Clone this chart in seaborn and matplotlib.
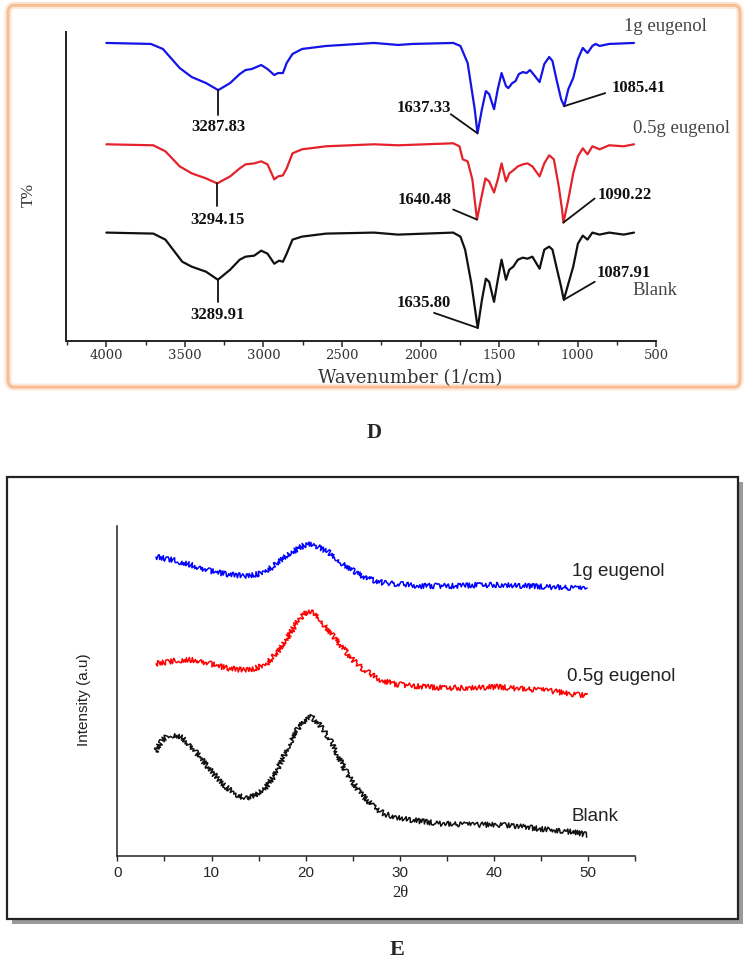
import matplotlib
matplotlib.use("Agg")
import matplotlib.pyplot as plt
from matplotlib.patches import FancyBboxPatch, Rectangle
from matplotlib.ticker import MultipleLocator
import pandas as pd
import seaborn as sns

# ---- panel D : FTIR, relative transmittance (0 = flat baseline) ----
ir_1g_wn = [4000, 3716, 3640, 3533, 3456, 3365, 3287.83, 3212, 3151, 3114, 3075, 3014, 2974, 2931,
            2907, 2876, 2852, 2815, 2754, 2601, 2296, 2143, 2052, 1792, 1746, 1700, 1655, 1637.33,
            1609, 1584, 1563, 1532, 1508, 1484, 1456, 1441, 1416, 1395, 1374, 1349, 1325, 1303,
            1282, 1242, 1212, 1181, 1160, 1135, 1105, 1085.41, 1059, 1028, 998, 967, 937, 906,
            885, 860, 799, 641]
ir_1g_t = [0, -1, -6, -25, -34, -40, -47, -40, -31, -27, -26, -22, -26, -32,
           -30, -30, -20, -11, -6, -3, 0, -2, -1, 0, -3, -20, -66, -90,
           -66, -48, -51, -66, -46, -30, -43, -45, -40, -38, -31, -29, -30, -27,
           -31, -39, -21, -14, -18, -36, -56, -63, -46, -35, -16, -5, -10, -3,
           -1, -3, -1, 0]

ir_05g_wn = [4000, 3701, 3624, 3533, 3456, 3365, 3294.15, 3212, 3151, 3114, 3059, 3014, 2974, 2931,
             2907, 2876, 2852, 2815, 2754, 2601, 2296, 2143, 1792, 1752, 1731, 1700, 1670, 1640.48,
             1615, 1587, 1563, 1532, 1508, 1484, 1456, 1435, 1410, 1380, 1349, 1319, 1288, 1242,
             1212, 1181, 1151, 1120, 1099, 1090.22, 1059, 1028, 998, 967, 937, 906, 860, 799,
             707, 641]
ir_05g_t = [0, -1, -7, -22, -29, -34, -39, -32, -24, -20, -19, -17, -20, -35,
            -32, -31, -24, -9, -5, -2, 0, -1, 1, -2, -15, -17, -35, -75,
            -55, -34, -37, -48, -35, -19, -37, -29, -26, -22, -20, -19, -22, -32,
            -19, -11, -15, -42, -65, -78, -55, -29, -12, -4, -10, -2, -5, -1,
            -2, 0]

ir_blank_wn = [4000, 3701, 3624, 3517, 3456, 3365, 3289.91, 3212, 3151, 3114, 3059, 3014, 2974, 2931,
               2901, 2876, 2852, 2815, 2754, 2601, 2296, 2143, 1792, 1746, 1716, 1676, 1635.80,
               1609, 1584, 1563, 1532, 1508, 1484, 1456, 1435, 1410, 1380, 1349, 1319, 1288, 1242,
               1212, 1181, 1160, 1135, 1105, 1087.91, 1059, 1028, 998, 967, 937, 906, 860, 799,
               707, 641]
ir_blank_t = [0, -1, -7, -29, -34, -39, -47, -37, -27, -24, -23, -18, -21, -31,
              -28, -29, -21, -7, -4, -1, 0, -2, 0, -4, -17, -51, -95,
              -67, -46, -49, -69, -47, -27, -47, -37, -34, -27, -25, -26, -24, -36,
              -17, -14, -17, -34, -54, -67, -51, -34, -11, -3, -7, 0, -2, 0,
              -2, 0]

ir_names = ["1g eugenol", "0.5g eugenol", "Blank"]
ir_peaks = {
    "1g eugenol": [3287.83, 1637.33, 1085.41],
    "0.5g eugenol": [3294.15, 1640.48, 1090.22],
    "Blank": [3289.91, 1635.80, 1087.91],
}

# ---- panel E : XRD ----
xrd_1g_2t = [4.1, 5.9, 7.9, 9.9, 11.5, 13.5, 15.0, 16.5, 18.1, 19.1, 20.1, 21.1, 22.4, 23.7, 25.2,
             26.7, 28.3, 29.8, 32.3, 35.9, 38.4, 41.0, 43.5, 46.1, 48.1, 49.9]
xrd_1g_i = [99, 96, 91, 85, 82, 80, 82, 89, 101, 107, 112, 110, 104, 94, 84,
            77, 73, 72, 70, 70, 71, 71, 70, 69, 68, 67]
xrd_05g_2t = [4.1, 5.3, 6.9, 8.4, 9.9, 11.5, 13.2, 14.5, 15.8, 17.1, 18.1, 19.1, 20.1, 20.9, 21.6,
              22.7, 23.7, 24.9, 26.2, 27.7, 29.3, 31.3, 34.4, 37.4, 40.5, 43.0, 46.1, 48.1, 49.9]
xrd_05g_i = [92, 94, 96, 96, 92, 88, 86, 87, 92, 104, 119, 134, 144, 143, 136,
             122, 111, 97, 86, 77, 72, 70, 68, 68, 69, 67, 65, 62, 60]
xrd_blank_2t = [4.1, 4.6, 5.3, 6.1, 6.9, 7.9, 8.9, 10.2, 11.5, 12.7, 13.7, 14.8, 15.8, 16.8, 17.8,
                18.8, 19.9, 20.6, 21.4, 22.4, 23.4, 24.4, 25.7, 27.0, 28.3, 29.8, 31.8, 34.4, 37.4,
                40.5, 43.0, 45.6, 48.1, 49.9]
xrd_blank_i = [104, 114, 120, 121, 118, 109, 97, 82, 69, 61, 57, 61, 69, 82, 102,
               122, 136, 139, 132, 119, 101, 82, 64, 51, 42, 38, 35, 32, 31,
               31, 29, 26, 24, 21]

colors = {"1g eugenol": "#1414E6", "0.5g eugenol": "#E3222B", "Blank": "#111111"}

sns.set_style("white")
plt.rcParams["font.family"] = ["Liberation Serif", "DejaVu Serif"]

fig = plt.figure(figsize=(7.48, 9.67), dpi=100)

# frames around the two panels
fig.patches.append(FancyBboxPatch((0.0107, 0.5997), 0.9786, 0.3948, boxstyle="round,pad=0,rounding_size=0.008",
                                  transform=fig.transFigure, fc="white", ec="#FDE6D6", lw=5, zorder=-6))
fig.patches.append(FancyBboxPatch((0.0107, 0.5997), 0.9786, 0.3948, boxstyle="round,pad=0,rounding_size=0.008",
                                  transform=fig.transFigure, fc="none", ec="#F7BC92", lw=2.0, zorder=-5))
fig.patches.append(Rectangle((0.0154, 0.0446), 0.9773, 0.457, transform=fig.transFigure,
                             fc="#9a9a9a", ec="none", zorder=-6))
fig.patches.append(Rectangle((0.0094, 0.0496), 0.9773, 0.457, transform=fig.transFigure,
                             fc="white", ec="#222222", lw=1.6, zorder=-5))

# ---------------- D ----------------
ax1 = fig.add_axes([0.0882, 0.6474, 0.789, 0.3196])
ax1.patch.set_visible(False)
ir_offset = {"1g eugenol": 297, "0.5g eugenol": 196, "Blank": 108}
ir_data = {"1g eugenol": (ir_1g_wn, ir_1g_t), "0.5g eugenol": (ir_05g_wn, ir_05g_t),
           "Blank": (ir_blank_wn, ir_blank_t)}
frames = []
for name in ir_names:
    wn, t = ir_data[name]
    frames.append(pd.DataFrame({"wn": wn, "T": [v + ir_offset[name] for v in t], "sample": name}))
df_ir = pd.concat(frames, ignore_index=True)
sns.lineplot(data=df_ir, x="wn", y="T", hue="sample", palette=colors, estimator=None,
             sort=False, units="sample", lw=1.6, legend=False, ax=ax1)

ax1.set_xlim(4257, 500)
ax1.set_ylim(0, 308)
ax1.set_yticks([])
ax1.xaxis.set_major_locator(MultipleLocator(500))
ax1.xaxis.set_minor_locator(MultipleLocator(250))
ax1.tick_params(axis="x", which="major", direction="out", length=4, width=1.1, pad=1.5,
                labelsize=9.5, labelcolor="#333333", bottom=True)
ax1.tick_params(axis="x", which="minor", direction="out", length=3, width=1.0, bottom=True)
for lab in ax1.get_xticklabels():
    lab.set_family("DejaVu Serif")
for s in ["top", "right"]:
    ax1.spines[s].set_visible(False)
for s in ["left", "bottom"]:
    ax1.spines[s].set_linewidth(1.4)
    ax1.spines[s].set_color("#222222")
ax1.set_xlabel("")
ax1.set_ylabel("")

# peak call-outs per sample: (line end offset, text offset, alignment) for each peak
callouts = {
    "1g eugenol": [((0, -25), (0, -37), "center"), ((170, 19), (168, 25), "right"),
                   ((-261, 13), (-301, 18), "left")],
    "0.5g eugenol": [((0, -22), (0, -36), "center"), ((152, 10), (163, 19), "right"),
                     ((-199, 24), (-220, 27), "left")],
    "Blank": [((0, -22), (0, -35), "center"), ((278, 15), (169, 25), "right"),
              ((-197, 18), (-212, 27), "left")],
}
for name in ir_names:
    wn, t = ir_data[name]
    for pk, (lend, toff, ha) in zip(ir_peaks[name], callouts[name]):
        y0 = t[wn.index(pk)] + ir_offset[name]
        ax1.plot([pk, pk + lend[0]], [y0, y0 + lend[1]], color="#111111", lw=1.3)
        ax1.text(pk + toff[0], y0 + toff[1], f"{pk:.2f}", ha=ha, va="center",
                 fontsize=12, fontweight="bold", color="#111111")

ax1.text(439, 313, "1g eugenol", ha="center", va="center", fontsize=13.5, color="#444444", clip_on=False)
ax1.text(341, 212, "0.5g eugenol", ha="center", va="center", fontsize=13.5, color="#444444", clip_on=False)
ax1.text(509, 50, "Blank", ha="center", va="center", fontsize=13.5, color="#444444", clip_on=False)

fig.text(0.548, 0.609, "Wavenumber (1/cm)", ha="center", va="center", fontsize=13,
         family="DejaVu Serif", color="#333333")
fig.text(0.0388, 0.798, "T%", ha="center", va="center", rotation=90, fontsize=12, color="#333333")
fig.text(0.5, 0.5522, "D", ha="center", va="center", fontsize=15, fontweight="bold")

# ---------------- E ----------------
ax2 = fig.add_axes([0.157, 0.1151, 0.692, 0.3409])
ax2.patch.set_visible(False)
xrd_offset = {"1g eugenol": 200, "0.5g eugenol": 100, "Blank": 0}
xrd_data = {"1g eugenol": (xrd_1g_2t, xrd_1g_i), "0.5g eugenol": (xrd_05g_2t, xrd_05g_i),
            "Blank": (xrd_blank_2t, xrd_blank_i)}
frames = []
for name in ir_names:
    tt, ii = xrd_data[name]
    frames.append(pd.DataFrame({"2t": tt, "I": [v + xrd_offset[name] for v in ii], "sample": name}))
df_xrd = pd.concat(frames, ignore_index=True)
sns.lineplot(data=df_xrd, x="2t", y="I", hue="sample", palette={"1g eugenol": "#0000ff",
             "0.5g eugenol": "#ff0000", "Blank": "#111111"}, estimator=None, sort=False,
             units="sample", lw=1.1, legend=False, ax=ax2)
# the measured traces are noisy: render them with a fine jitter
for ln in ax2.lines:
    ln.set_sketch_params(scale=2.6, length=1.5, randomness=2)

ax2.set_xlim(0, 55)
ax2.set_ylim(0, 330)
ax2.set_yticks([])
ax2.xaxis.set_major_locator(MultipleLocator(10))
ax2.xaxis.set_minor_locator(MultipleLocator(5))
ax2.tick_params(axis="x", which="both", direction="out", length=3.5, width=1.0, pad=4,
                labelsize=11, bottom=True)
for lab in ax2.get_xticklabels():
    lab.set_family("Liberation Sans")
for s in ["top", "right"]:
    ax2.spines[s].set_visible(False)
for s in ["left", "bottom"]:
    ax2.spines[s].set_linewidth(1.1)
    ax2.spines[s].set_color("#222222")
ax2.set_xlabel("")
ax2.set_ylabel("")

ax2.text(53.2, 284, "1g eugenol", ha="center", va="center", fontsize=13.5,
         family="Liberation Sans", color="#222222", clip_on=False)
ax2.text(53.5, 179, "0.5g eugenol", ha="center", va="center", fontsize=13.5,
         family="Liberation Sans", color="#222222", clip_on=False)
ax2.text(50.7, 39, "Blank", ha="center", va="center", fontsize=13.5,
         family="Liberation Sans", color="#222222", clip_on=False)

fig.text(0.112, 0.276, "Intensity (a.u)", ha="center", va="center", rotation=90, fontsize=11,
         family="Liberation Sans", color="#222222")
fig.text(0.535, 0.0765, "2θ", ha="center", va="center", fontsize=12, color="#222222")
fig.text(0.5307, 0.0176, "E", ha="center", va="center", fontsize=16, fontweight="bold")

fig.savefig("out.png", dpi=100)
